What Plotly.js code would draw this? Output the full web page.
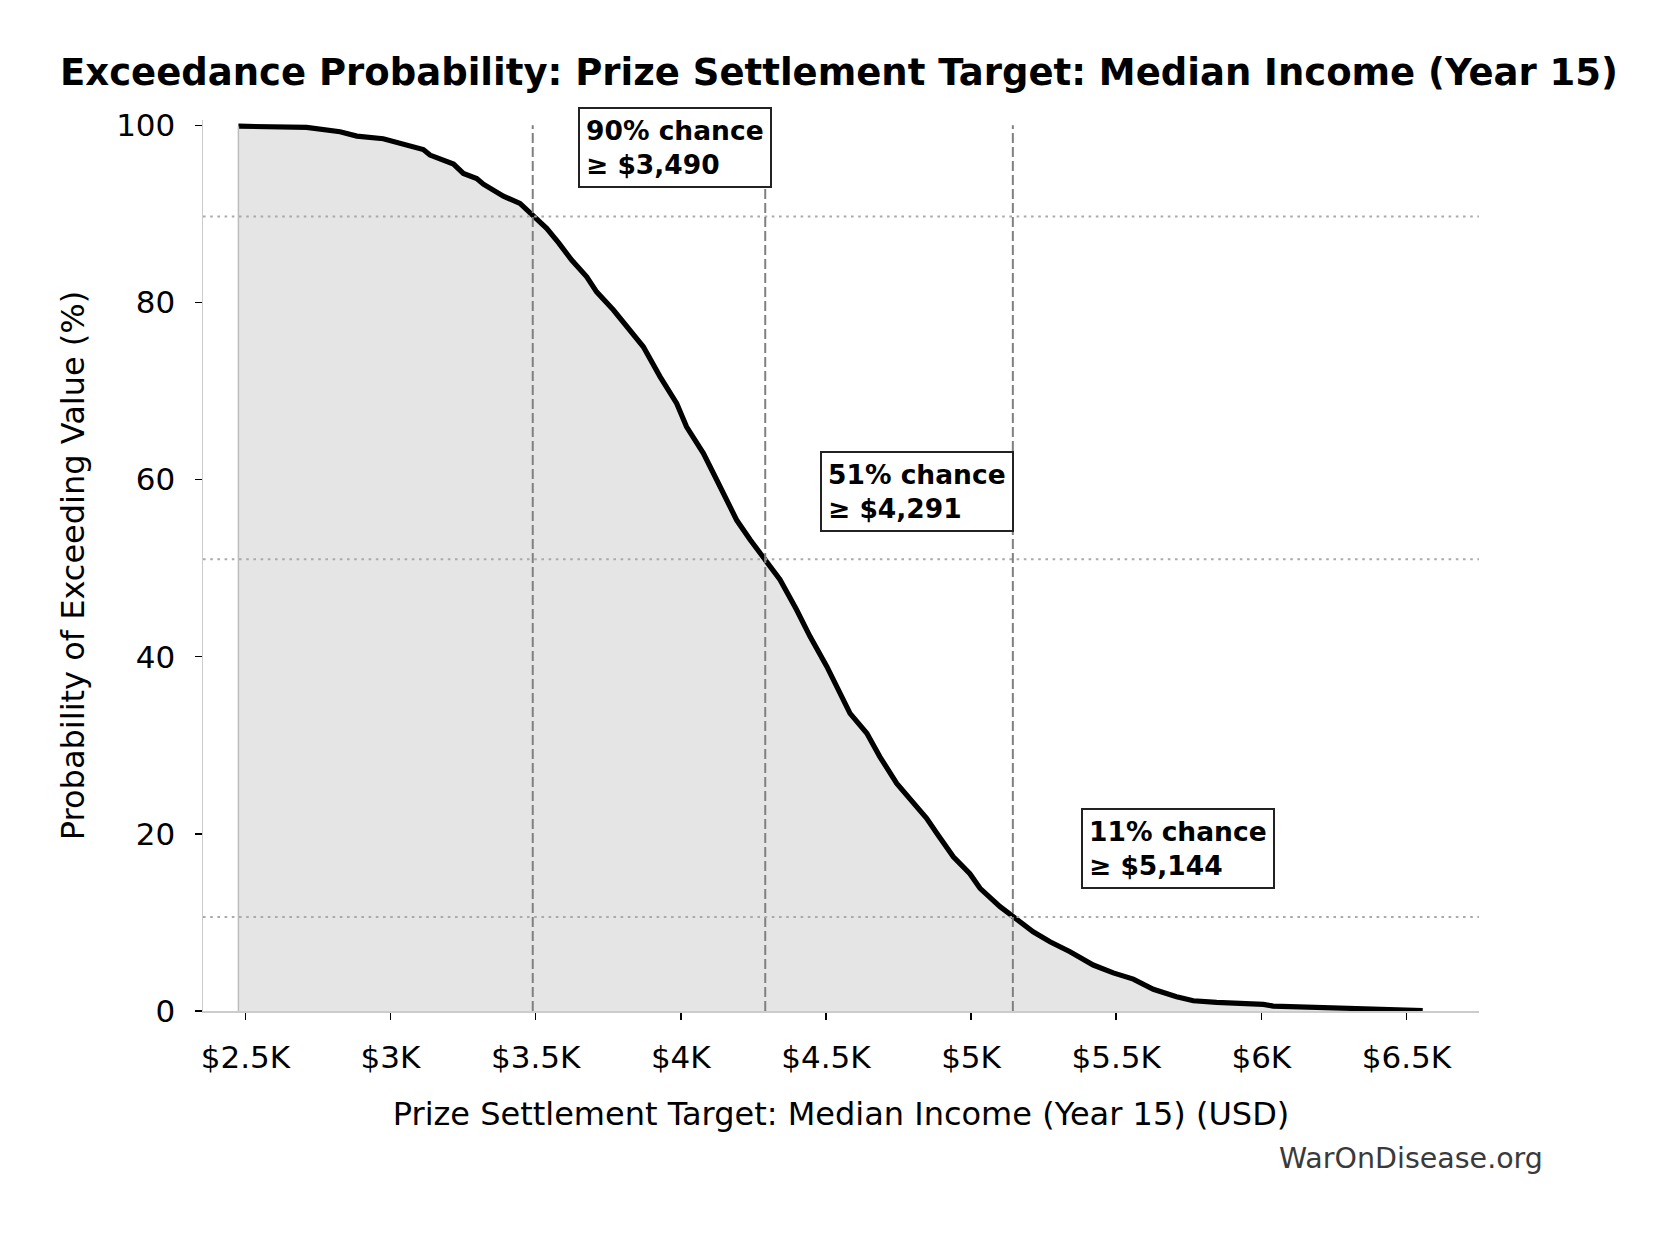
<!DOCTYPE html>
<html>
<head>
<meta charset="utf-8">
<script src="https://cdn.plot.ly/plotly-3.0.1.min.js"></script>
<style>
  html, body { margin: 0; padding: 0; background: #ffffff; }
  #chart { width: 1678px; height: 1233px; }
</style>
</head>
<body>
<div id="chart"></div>
<script>
// Exceedance curve: settlement target (USD) vs probability of exceeding it (%)
const incomeUsd = [
  2476, 2600, 2711, 2826, 2884, 2975, 3056, 3113, 3136, 3217,
  3251, 3297, 3320, 3389, 3446, 3492, 3538, 3580, 3624, 3676,
  3710, 3768, 3837, 3871, 3929, 3986, 4020, 4078, 4124, 4158,
  4193, 4239, 4293, 4342, 4399, 4445, 4503, 4549, 4583, 4641,
  4686, 4744, 4801, 4847, 4882, 4939, 4996, 5031, 5100, 5146,
  5214, 5272, 5341, 5421, 5490, 5559, 5628, 5708, 5766, 5846,
  5891, 6007, 6041, 6122, 6213, 6351, 6556
];
const exceedPct = [
  99.9, 99.85, 99.76, 99.27, 98.78, 98.48, 97.76, 97.27, 96.64, 95.62,
  94.57, 94.0, 93.36, 92.0, 91.18, 89.67, 88.36, 86.7, 84.78, 82.9,
  81.2, 79.14, 76.3, 75.0, 71.6, 68.6, 65.96, 62.96, 59.95, 57.7,
  55.4, 53.2, 50.9, 48.7, 45.3, 42.3, 38.9, 35.9, 33.6, 31.35,
  28.7, 25.7, 23.45, 21.75, 20.06, 17.42, 15.5, 13.85, 11.78, 10.65,
  8.95, 7.82, 6.69, 5.19, 4.3, 3.6, 2.45, 1.61, 1.16, 0.98,
  0.94, 0.75, 0.56, 0.49, 0.30, 0.19, 0.05
];

// Marked percentiles
const thresholdUsd = [3490, 4291, 5144];
const thresholdPct = [89.7, 51.0, 10.6];

// Axis ticks
const xTickVals = [2500, 3000, 3500, 4000, 4500, 5000, 5500, 6000, 6500];
const xTickText = ['$2.5K', '$3K', '$3.5K', '$4K', '$4.5K', '$5K', '$5.5K', '$6K', '$6.5K'];
const yTickVals = [0, 20, 40, 60, 80, 100];

const FONT = 'DejaVu Sans, Verdana, sans-serif';
// pixel offsets of each callout box from its marked point
const calloutShift = [[45, 69], [55, 68], [68, 69]];

function money(v) {
  return '$' + String(v).replace(/\B(?=(\d{3})+(?!\d))/g, ',');
}

const traces = [
  {
    x: incomeUsd, y: exceedPct, type: 'scatter', mode: 'lines',
    fill: 'tozeroy', fillcolor: 'rgba(0,0,0,0.1)',
    line: { width: 0, color: 'rgba(0,0,0,0)' },
    hoverinfo: 'skip', showlegend: false
  },
  {
    x: incomeUsd, y: exceedPct, type: 'scatter', mode: 'lines',
    line: { width: 5.2, color: '#000000' },
    hoverinfo: 'skip', showlegend: false
  }
];

const shapes = [];
// left edge of the filled area
shapes.push({
  type: 'line', xref: 'x', yref: 'y',
  x0: incomeUsd[0], x1: incomeUsd[0], y0: 0, y1: exceedPct[0],
  line: { color: '#bdbdbd', width: 1.5 }, layer: 'above'
});
thresholdUsd.forEach((v, i) => {
  shapes.push({
    type: 'line', xref: 'paper', yref: 'y',
    x0: 0, x1: 1, y0: thresholdPct[i], y1: thresholdPct[i],
    line: { color: '#aaaaaa', width: 2, dash: '2.6px,4.6px' }, layer: 'above'
  });
  shapes.push({
    type: 'line', xref: 'x', yref: 'y',
    x0: v, x1: v, y0: 0, y1: 100,
    line: { color: '#808080', width: 2, dash: '10px,4px' }, layer: 'above'
  });
});

const annotations = thresholdUsd.map((v, i) => ({
  xref: 'x', yref: 'y', x: v, y: thresholdPct[i],
  xanchor: 'left', yanchor: 'middle', align: 'left',
  xshift: calloutShift[i][0], yshift: calloutShift[i][1],
  showarrow: false,
  text: '<b>' + Math.round(thresholdPct[i]) + '% chance<br>≥ ' + money(v) + '</b>',
  font: { family: FONT, size: 26.5, color: '#000000' },
  bgcolor: '#ffffff', bordercolor: '#222222', borderwidth: 2, borderpad: 6
}));

annotations.push({
  xref: 'paper', yref: 'paper', x: 1.0517, y: -0.165,
  xanchor: 'right', yanchor: 'middle', showarrow: false,
  text: 'WarOnDisease.org',
  font: { family: FONT, size: 28.5, color: '#3a3a3a' }
});

const layout = {
  width: 1678, height: 1233,
  paper_bgcolor: '#ffffff', plot_bgcolor: '#ffffff',
  margin: { l: 203, r: 199, t: 120, b: 222, pad: 0 },
  font: { family: FONT, color: '#000000' },
  title: {
    text: '<b>Exceedance Probability: Prize Settlement Target: Median Income (Year 15)</b>',
    font: { family: FONT, size: 37, color: '#000000' },
    x: 0.5, xref: 'container', xanchor: 'center',
    y: 1 - 72 / 1233, yref: 'container', yanchor: 'middle'
  },
  xaxis: {
    range: [2354, 6750],
    tickvals: xTickVals, ticktext: xTickText,
    tickfont: { family: FONT, size: 31, color: '#000000' },
    ticks: 'outside', ticklen: 7, tickwidth: 1.5, tickcolor: '#000000',
    ticklabelstandoff: 11,
    showline: true, linecolor: '#cccccc', linewidth: 1.5,
    showgrid: false, zeroline: false,
    title: {
      text: 'Prize Settlement Target: Median Income (Year 15) (USD)',
      font: { family: FONT, size: 32, color: '#000000' },
      standoff: 29
    }
  },
  yaxis: {
    range: [0, 100.6],
    tickvals: yTickVals,
    tickfont: { family: FONT, size: 31, color: '#000000' },
    ticks: 'outside', ticklen: 7, tickwidth: 1.5, tickcolor: '#000000',
    ticklabelstandoff: 13,
    showline: true, linecolor: '#cccccc', linewidth: 1.5,
    showgrid: false, zeroline: false,
    title: {
      text: 'Probability of Exceeding Value (%)',
      font: { family: FONT, size: 32, color: '#000000' },
      standoff: 22
    }
  },
  shapes: shapes,
  annotations: annotations,
  showlegend: false,
  hovermode: false
};

Plotly.newPlot('chart', traces, layout, { staticPlot: true, displayModeBar: false });
</script>
</body>
</html>
